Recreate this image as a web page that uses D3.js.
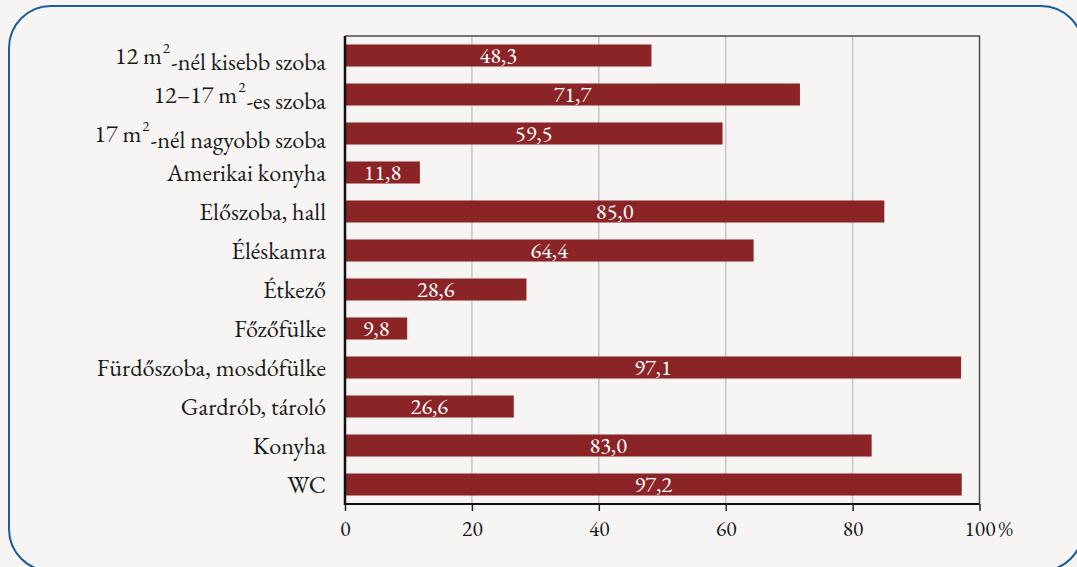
<!DOCTYPE html>
<html><head><meta charset="utf-8">
<script src="https://cdn.jsdelivr.net/npm/d3@7"></script>
<style>
html,body{margin:0;padding:0;background:#f6f5f3;}
svg{display:block;}
</style></head>
<body>
<svg id="chart" width="1077" height="567"></svg>
<script>
const categories = [
  "12 m{2}-nél kisebb szoba",
  "12–17 m{2}-es szoba",
  "17 m{2}-nél nagyobb szoba",
  "Amerikai konyha",
  "Előszoba, hall",
  "Éléskamra",
  "Étkező",
  "Főzőfülke",
  "Fürdőszoba, mosdófülke",
  "Gardrób, tároló",
  "Konyha",
  "WC"
];
const values = [48.3, 71.7, 59.5, 11.8, 85.0, 64.4, 28.6, 9.8, 97.1, 26.6, 83.0, 97.2];
const tickValues = [0, 20, 40, 60, 80, 100];
const unitLabel = "%";

(function(){
const FONT = "'EB Garamond','Liberation Serif',serif";
const svg = d3.select("#chart");
svg.append("rect").attr("x",0).attr("y",0).attr("width",1077).attr("height",567).attr("fill","#f6f5f3");
// rounded outer frame
svg.append("rect").attr("x",9).attr("y",6).attr("width",1074).attr("height",565)
  .attr("rx",42).attr("ry",42).attr("fill","none").attr("stroke","#1b5c9e").attr("stroke-width",2);

const pL = 345, pR = 979.5, pT = 36, pB = 504;
const x = d3.scaleLinear().domain([0,100]).range([pL,pR]);
const y = d3.scaleBand().domain(categories).range([pT,pB]).paddingInner(0.435).paddingOuter(0.2175);

// gridlines
svg.append("g").selectAll("line").data(tickValues.filter(t=>t>0 && t<100)).join("line")
  .attr("x1",d=>x(d)).attr("x2",d=>x(d)).attr("y1",pT).attr("y2",pB)
  .attr("stroke","#c6c6c6").attr("stroke-width",1.5);

// frame top/right
svg.append("path").attr("d",`M${pL},${pT}H${pR}V${pB}`).attr("fill","none")
  .attr("stroke","#4a4a4a").attr("stroke-width",1.5);

// bars
svg.append("g").selectAll("rect").data(values).join("rect")
  .attr("x",x(0)).attr("y",(d,i)=>y(categories[i]))
  .attr("width",d=>x(d)-x(0)).attr("height",y.bandwidth())
  .attr("fill","#8b2426");

// value labels
const fmt = d=>d3.format(".1f")(d).replace(".",",");
svg.append("g").selectAll("text").data(values).join("text")
  .attr("x",d=>(x(0)+x(d))/2).attr("y",(d,i)=>y(categories[i])+y.bandwidth()/2)
  .attr("dy","0.33em").attr("text-anchor","middle").attr("fill","#ffffff")
  .attr("font-family",FONT).attr("font-size",22.5).text(d=>fmt(d));

// category labels
const lab = svg.append("g");
categories.forEach(c=>{
  const t = lab.append("text").attr("x",pL-19).attr("y",y(c)+y.bandwidth()/2)
    .attr("dy","0.33em").attr("text-anchor","end").attr("font-family",FONT)
    .attr("font-size",24.3).attr("fill","#1a1a1a");
  const parts = c.split(/\{(\d)\}/);
  parts.forEach((p,i)=>{
    if(i%2===1){
      t.append("tspan").attr("font-size",15).attr("dy","-0.7em").attr("dx","1").text(p);
    } else if(p.length){
      const ts = t.append("tspan").text(p);
      if(i>0) ts.attr("dy","0.7em").attr("dx","1");
    }
  });
});

// bottom axis
const axis = d3.axisBottom(x).tickValues(tickValues).tickSize(7).tickPadding(10).tickFormat(d3.format("d"));
const ag = svg.append("g").attr("transform",`translate(0,${pB})`).call(axis);
ag.attr("font-family",FONT);
ag.select(".domain").attr("stroke","#111").attr("stroke-width",2).attr("d",`M${pL},0H${pR}`);
ag.selectAll(".tick line").attr("stroke","#222").attr("stroke-width",1.5);
ag.selectAll(".tick text").attr("font-size",21.5).attr("fill","#1a1a1a").attr("font-family",FONT);
svg.append("text").attr("x",x(100)+19).attr("y",pB+32).attr("font-size",22).attr("font-family",FONT)
  .attr("fill","#1a1a1a").text(unitLabel);

// left axis line
svg.append("line").attr("x1",pL).attr("x2",pL).attr("y1",pT).attr("y2",pB+1)
  .attr("stroke","#111").attr("stroke-width",2.5);
})();
</script>
</body></html>
